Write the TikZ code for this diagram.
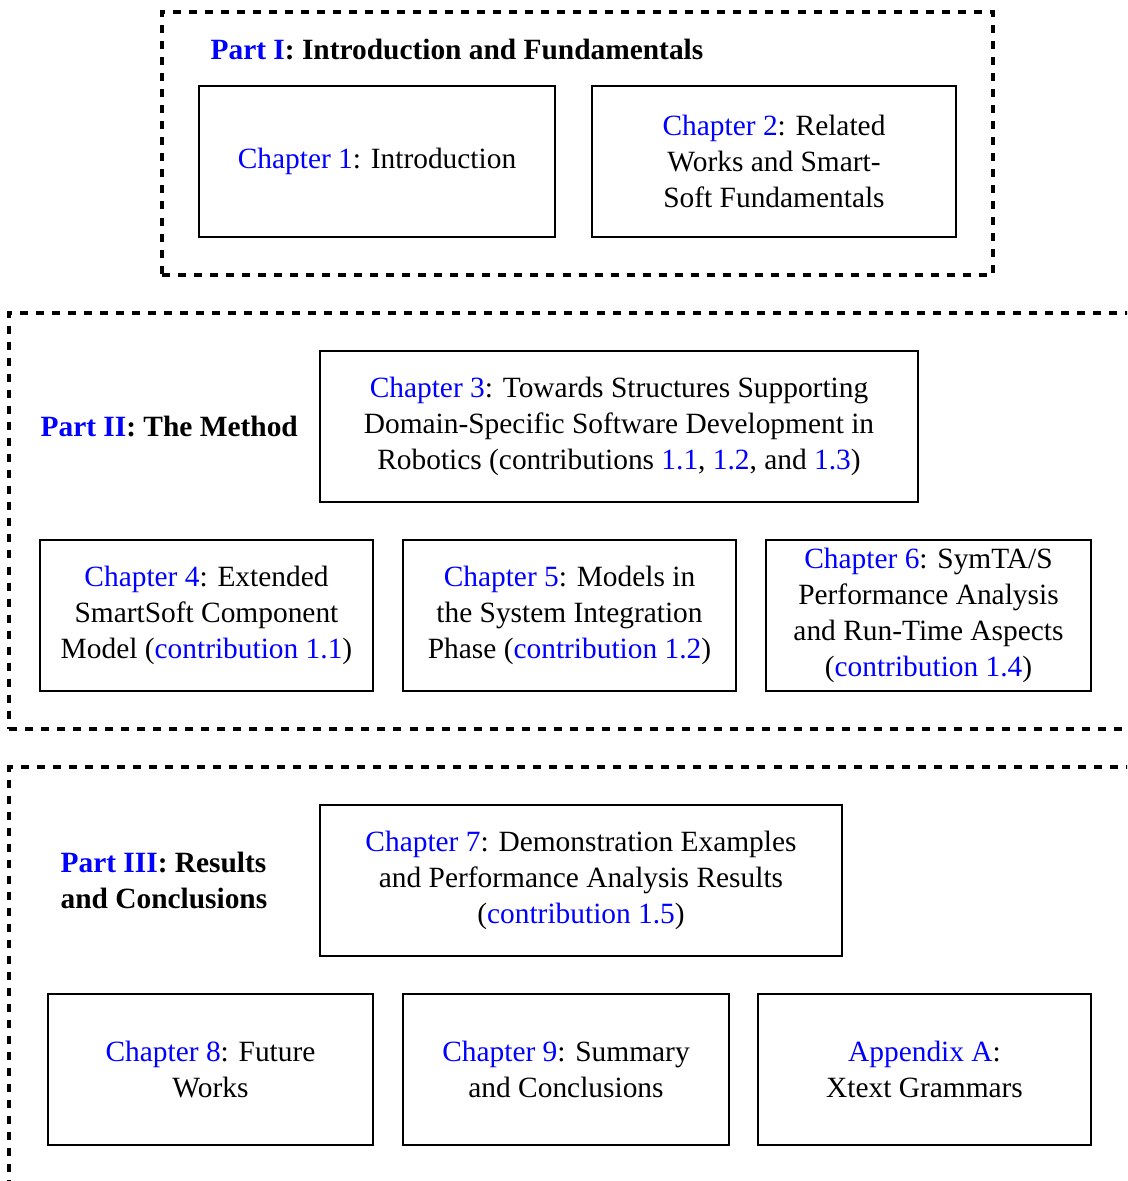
\documentclass[tikz,border=0pt]{standalone}
\usepackage{fontspec}
\setmainfont{Liberation Serif}[Scale=0.98]
\begin{document}
\begin{tikzpicture}[x=0.33333pt,y=-0.33333pt,
  partbox/.style={draw,line width=1.1pt,dash pattern=on 2.67pt off 2.67pt,inner sep=0pt},
  chbox/.style={draw,thick,inner sep=0pt,align=center,minimum height=50.3pt},
  parttitle/.style={inner sep=0pt,font=\bfseries,align=left}]
\useasboundingbox (0,0) rectangle (1127,1181);
\clip (0,0) rectangle (1127,1181);
\newcommand{\lk}[1]{\textcolor{blue}{#1}}

% Part I
\node[partbox,minimum width=277pt,minimum height=87.7pt] (p1) at (577.5,143.5) {};
\node[parttitle,anchor=base west] (p1t) at (210,59) {\lk{Part I}: Introduction and Fundamentals};
\node[chbox,minimum width=118.7pt] (c1) at (377,161.5) {\lk{Chapter 1}: Introduction};
\node[chbox,minimum width=121.3pt] (c2) at (774,161.5) {\lk{Chapter 2}: Related\\Works and Smart-\\Soft Fundamentals};

% Part II
\node[partbox,minimum width=377pt,minimum height=138.7pt] (p2) at (574.5,521) {};
\node[parttitle,anchor=base west] (p2t) at (40,436) {\lk{Part II}: The Method};
\node[chbox,minimum width=199.3pt] (c3) at (619,426.5) {\lk{Chapter 3}: Towards Structures Supporting\\Domain-Specific Software Development in\\Robotics (contributions \lk{1.1}, \lk{1.2}, and \lk{1.3})};
\node[chbox,minimum width=111pt] (c4) at (206.5,615.5) {\lk{Chapter 4}: Extended\\SmartSoft Component\\Model (\lk{contribution 1.1})};
\node[chbox,minimum width=111pt] (c5) at (569.5,615.5) {\lk{Chapter 5}: Models in\\the System Integration\\Phase (\lk{contribution 1.2})};
\node[chbox,minimum width=108.3pt] (c6) at (928.5,615.5) {\lk{Chapter 6}: SymTA/S\\Performance Analysis\\and Run-Time Aspects\\(\lk{contribution 1.4})};

% Part III
\node[partbox,minimum width=377pt,minimum height=144.3pt] (p3) at (574.5,983.5) {};
\node[parttitle,anchor=west] (p3t) at (60,880) {\lk{Part III}: Results\\and Conclusions};
\node[chbox,minimum width=174pt] (c7) at (581,880.5) {\lk{Chapter 7}: Demonstration Examples\\and Performance Analysis Results\\(\lk{contribution 1.5})};
\node[chbox,minimum width=108.3pt] (c8) at (210.5,1069.5) {\lk{Chapter 8}: Future\\Works};
\node[chbox,minimum width=108.7pt] (c9) at (566,1069.5) {\lk{Chapter 9}: Summary\\and Conclusions};
\node[chbox,minimum width=111pt] (ca) at (924.5,1069.5) {\lk{Appendix A}:\\Xtext Grammars};
\end{tikzpicture}
\end{document}
